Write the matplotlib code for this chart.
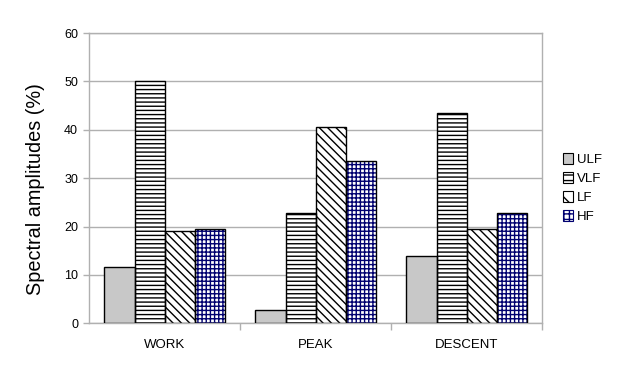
import matplotlib
matplotlib.use("Agg")
import matplotlib.pyplot as plt
import numpy as np
from matplotlib.patches import Patch

plt.rcParams['font.family'] = ['Liberation Sans', 'DejaVu Sans']
plt.rcParams['hatch.linewidth'] = 1.0

categories = ["WORK", "PEAK", "DESCENT"]
series_names = ["ULF", "VLF", "LF", "HF"]
ulf = [11.7, 2.7, 14.0]
vlf = [50.0, 22.9, 43.4]
lf = [19.1, 40.5, 19.4]
hf = [19.4, 33.6, 22.9]
yticks = [0, 10, 20, 30, 40, 50, 60]

values = [ulf, vlf, lf, hf]
faces = ["#c8c8c8", "white", "white", "white"]
hatches = [None, "----", "\\\\\\\\", "++++"]
hatch_colors = ["black", "black", "black", "#000070"]

fig = plt.figure(figsize=(6.30, 3.83), dpi=100)
ax = fig.add_axes([0.1417, 0.1559, 0.8608 - 0.1417, 0.9138 - 0.1559])

x = np.arange(len(categories))
w = 0.2
for i, (vals, fc, h, hc) in enumerate(zip(values, faces, hatches, hatch_colors)):
    pos = x + (i - 1.5) * w
    if h:
        ax.bar(pos, vals, width=w, color=fc, edgecolor=hc, hatch=h, linewidth=0, zorder=2)
        ax.bar(pos, vals, width=w, fill=False, edgecolor="black", linewidth=1.0, zorder=3)
    else:
        ax.bar(pos, vals, width=w, color=fc, edgecolor="black", linewidth=1.0, zorder=3)

ax.set_xlim(-0.5, 2.5)
ax.set_ylim(0, 60)
ax.set_yticks(yticks)
ax.set_yticklabels([str(t) for t in yticks], fontsize=9)
ax.yaxis.grid(True, color="#b0b0b0", linewidth=1.0, zorder=0)
ax.set_axisbelow(True)

ax.set_xticks(x)
ax.set_xticklabels(categories, fontsize=9.5)
ax.tick_params(axis="x", which="major", length=0, pad=11)
ax.set_xticks([0.5, 1.5, 2.5], minor=True)
ax.tick_params(axis="x", which="minor", length=5, color="#b0b0b0", width=1)
ax.tick_params(axis="y", length=4, color="#b0b0b0", width=1, pad=4)

for s in ax.spines.values():
    s.set_color("#b0b0b0")
    s.set_linewidth(1.0)

ax.set_ylabel("Spectral amplitudes (%)", fontsize=14.3)
ax.yaxis.set_label_coords(-0.098, 0.463)

handles = [
    Patch(facecolor="#c8c8c8", edgecolor="black", linewidth=0.8),
    Patch(facecolor="white", edgecolor="black", hatch="---", linewidth=0.8),
    Patch(facecolor="white", edgecolor="black", hatch="\\\\", linewidth=0.8),
    Patch(facecolor="white", edgecolor="#000070", hatch="+++", linewidth=0.8),
]
leg = fig.legend(handles, series_names, loc="upper left", bbox_to_anchor=(0.885, 0.615),
                 frameon=False, fontsize=9.5, handlelength=0.8, handleheight=0.9,
                 handletextpad=0.3, labelspacing=0.45, borderaxespad=0)

fig.savefig("out.png", dpi=100, facecolor="white")
